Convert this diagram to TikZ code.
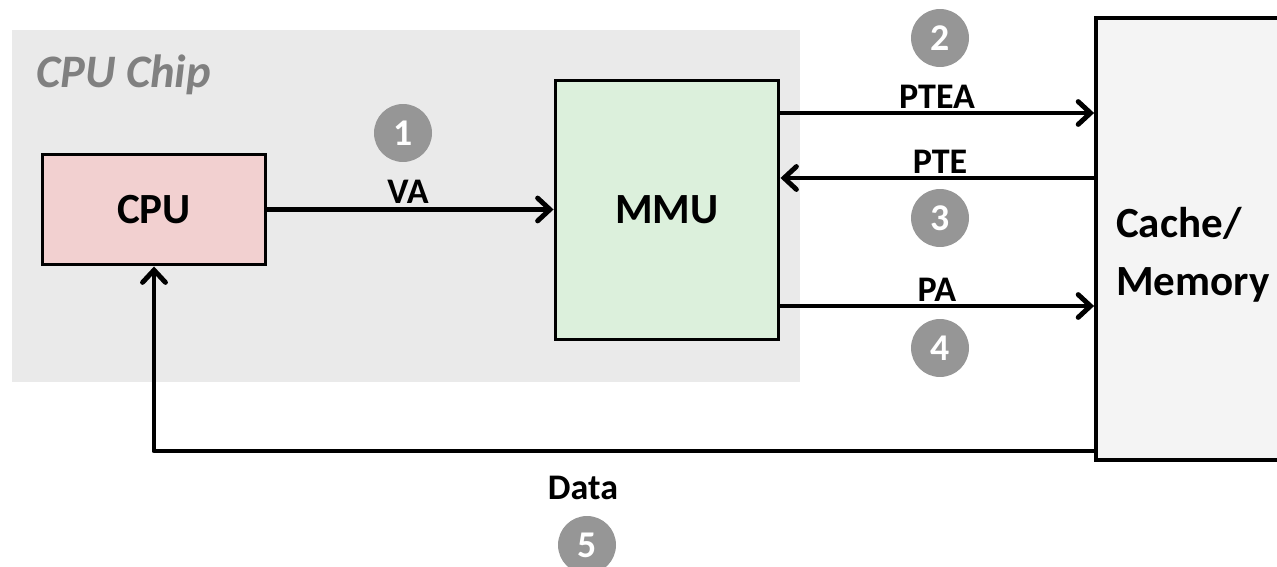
\documentclass[tikz,border=0pt]{standalone}
\usepackage{fontspec}
\setmainfont{Carlito}
\usetikzlibrary{arrows.meta,positioning}
\definecolor{chipgray}{HTML}{EAEAEA}
\definecolor{cpupink}{HTML}{F2D0D0}
\definecolor{mmugreen}{HTML}{DCF0DC}
\definecolor{memgray}{HTML}{F4F4F4}
\definecolor{stepgray}{HTML}{969696}
\definecolor{chiptext}{HTML}{808080}

\tikzset{
	unit/.style={draw=black, line width=1.7pt, font=\fontsize{24.5}{28}\selectfont\bfseries},
	arr/.style={line width=2.8pt, -{Straight Barb[length=7pt,width=13pt,line cap=round]}},
	lab/.style={font=\fontsize{20.5}{24}\selectfont\bfseries, inner sep=0pt},
	num/.style={circle, fill=stepgray, text=white, minimum size=1.16cm, inner sep=0pt,
		font=\fontsize{21.5}{24}\selectfont\bfseries}
}

\begin{document}
\begin{tikzpicture}[x=0.02cm,y=-0.02cm]
	\useasboundingbox (0,0) rectangle (1277,567);
	\clip (0,0) rectangle (1277,567);
	% chip
	\fill[chipgray] (12,30) rectangle (800,382);
	\node[anchor=west, text=chiptext, font=\fontsize{26.5}{30}\selectfont\bfseries\itshape] (chip) at (30,75) {CPU Chip};
	% units
	\node[unit, fill=cpupink, minimum width=4.48cm, minimum height=2.22cm] (cpu) at (154,209.5) {CPU};
	\node[unit, fill=mmugreen, minimum width=4.48cm, minimum height=5.2cm] (mmu) at (667,210) {MMU};
	\node[unit, line width=2.2pt, fill=memgray, minimum width=5cm, minimum height=8.84cm] (mem) at (1221,239) {};
	\node[anchor=west, align=left, font=\fontsize{24.5}{33}\selectfont\bfseries] (memtxt) at (1110,255) {Cache/\\Memory};
	% connectors
	\draw[arr] (cpu.east) -- (mmu.west |- cpu.east);
	\draw[arr] (mmu.east |- 0,113) -- (mem.west |- 0,113);
	\draw[arr] (mem.west |- 0,178) -- (mmu.east |- 0,178);
	\draw[arr] (mmu.east |- 0,306) -- (mem.west |- 0,306);
	\draw[arr, line join=round] (mem.west |- 0,451) -| (cpu.south);
	% labels
	\node[lab] (va) at (408,192) {VA};
	\node[lab] (ptea) at (937,97) {PTEA};
	\node[lab] (pte) at (940,162) {PTE};
	\node[lab] (pa) at (937,290) {PA};
	\node[lab] (data) at (583,488) {Data};
	% steps
	\node[num] (s1) at (403,133) {1};
	\node[num] (s2) at (940,38) {2};
	\node[num] (s3) at (940,218) {3};
	\node[num] (s4) at (940,348) {4};
	\node[num] (s5) at (587,545) {5};
\end{tikzpicture}
\end{document}
